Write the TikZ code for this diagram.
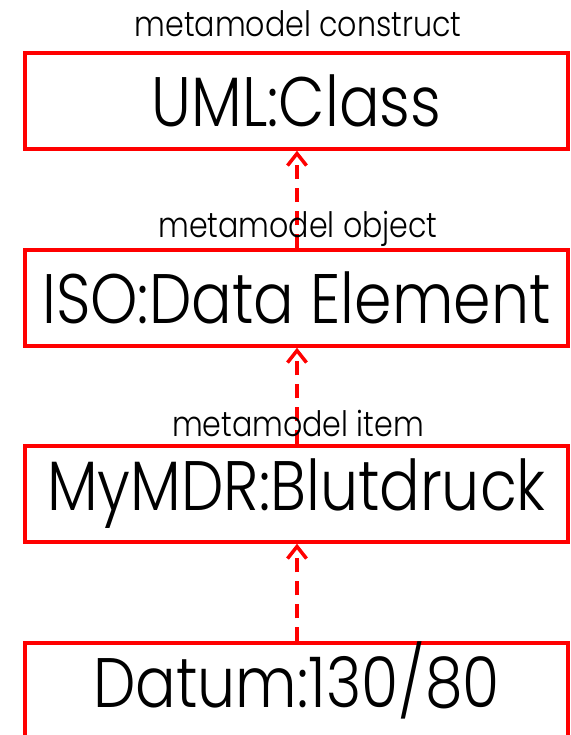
\documentclass[tikz,border=0pt]{standalone}
\usepackage{fontspec}
\setmainfont{Poppins}[UprightFont=* Light, FakeStretch=0.86]
\usetikzlibrary{arrows.meta}
\definecolor{boxred}{RGB}{255,0,0}
\begin{document}
\begin{tikzpicture}[x=1pt,y=-1pt,
  levelbox/.style={draw=boxred, line width=3.5pt, minimum width=543pt, minimum height=96pt,
    inner sep=0pt, font=\fontsize{70}{70}\selectfont},
  boxtext/.style={inner sep=0pt, font=\fontsize{70}{70}\selectfont},
  levellabel/.style={anchor=base, inner sep=0pt, font=\fontsize{35}{35}\selectfont},
  instanceof/.style={draw=boxred, line width=3.5pt, dash pattern=on 14pt off 9pt,
    -{Straight Barb[length=12pt,width=19pt,line width=3.5pt]}}]
  \useasboundingbox (0,0) rectangle (570,735);
  \clip (0,0) rectangle (570,735);
  % one box per modelling level
  \node[levelbox] (cls)   at (296.5,101) {UML:Class};
  \node[levelbox] (iso)   at (296.5,298) {ISO:Data Element};
  \node[levelbox] (mdr)   at (296.5,494) {MyMDR:Blutdruck};
  % the lowest box runs off the bottom edge
  \node[levelbox] (datum) at (296.5,691) {};
  \node[boxtext, anchor=base] (datumtext) at (296.5,707) {Datum:130/80};
  % instance-of links, each pointing up to the level above
  \draw[instanceof] (datum.north -| 297,0) -- (mdr.south -| 297,0);
  \draw[instanceof] (mdr.north -| 297,0) -- (iso.south -| 297,0);
  \draw[instanceof] (iso.north -| 297,0) -- (cls.south -| 297,0);
  % level names above the boxes
  \node[levellabel] (lcls) at (298,37)  {metamodel construct};
  \node[levellabel] (liso) at (298,237) {metamodel object};
  \node[levellabel] (lmdr) at (298,436) {metamodel item};
\end{tikzpicture}
\end{document}
